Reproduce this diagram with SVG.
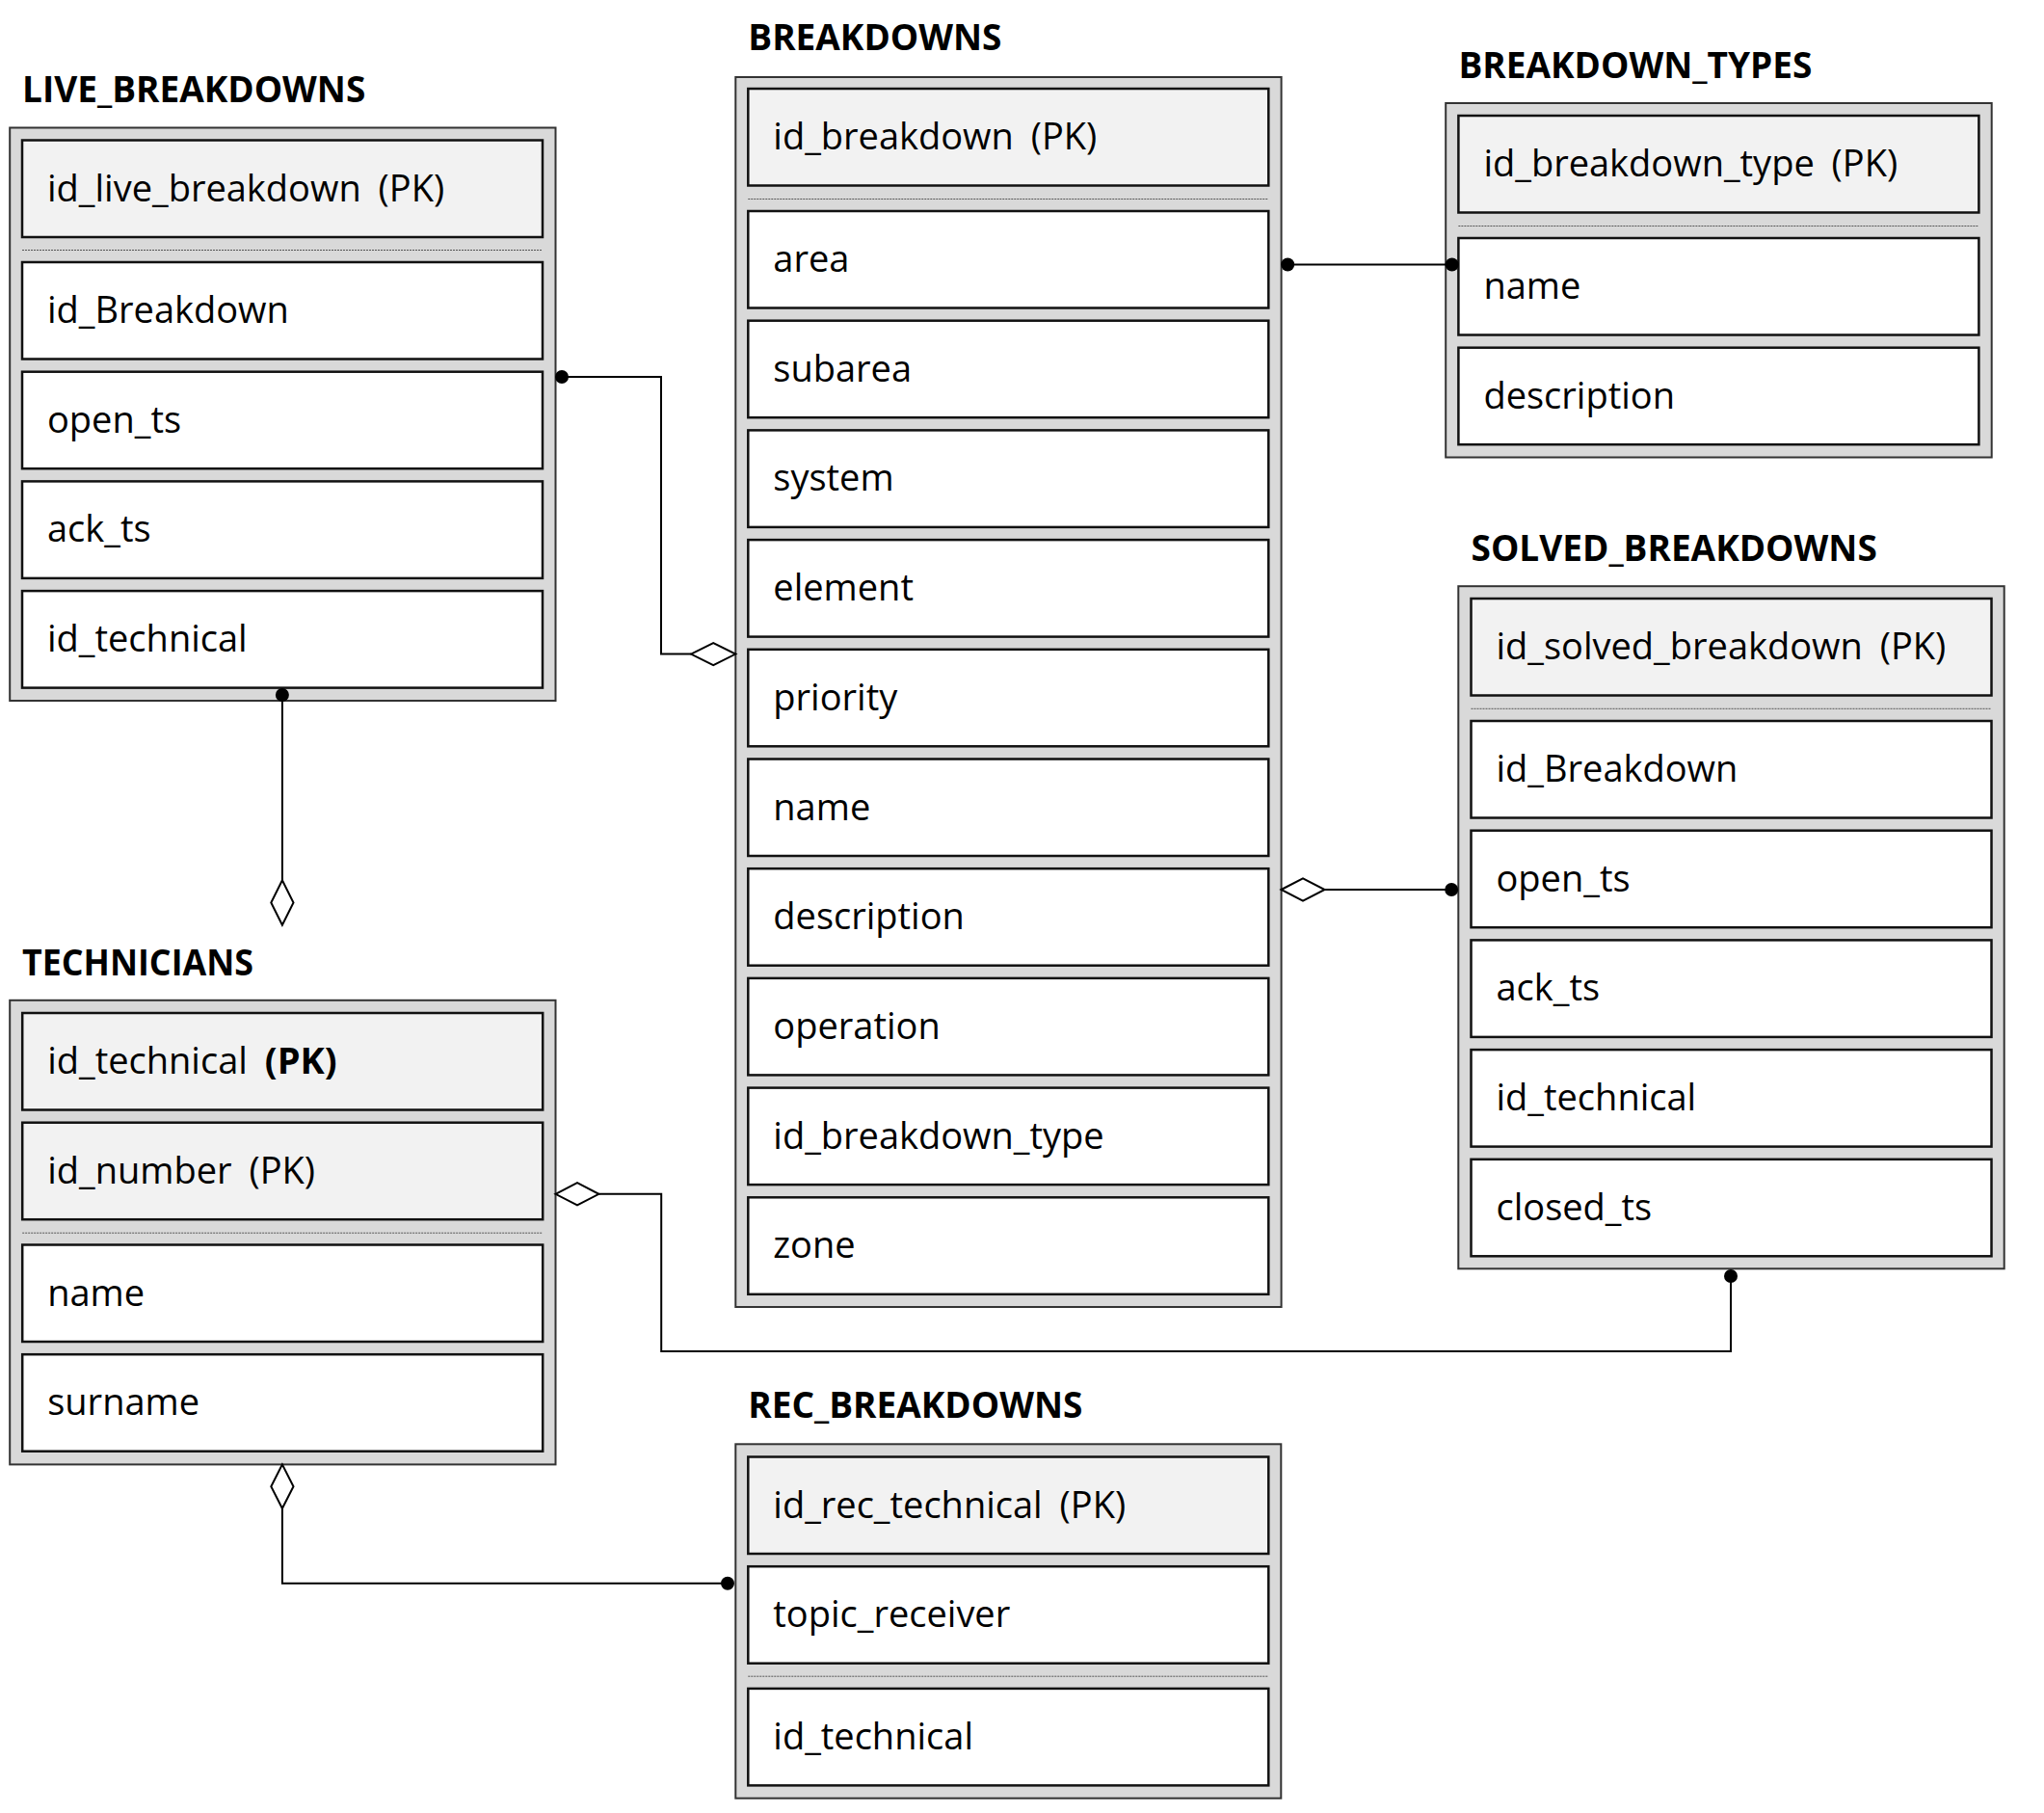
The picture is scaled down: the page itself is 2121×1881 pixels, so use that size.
<svg xmlns="http://www.w3.org/2000/svg" width="2121" height="1881" viewBox="0 0 2121 1881">
<style>
.bg{fill:#ffffff}
.outer{fill:#d9d9d9;stroke:#333333;stroke-width:2}
.pk{fill:#f2f2f2;stroke:#111111;stroke-width:2.5}
.row{fill:#ffffff;stroke:#111111;stroke-width:2.5}
.sep{stroke:#555555;stroke-width:1;stroke-dasharray:2 1}
.title{font-family:"Open Sans","Noto Sans","DejaVu Sans",sans-serif;font-weight:bold;font-size:37px;fill:#000}
.f{font-family:"Open Sans","Noto Sans","DejaVu Sans",sans-serif;font-size:38px;fill:#000;word-spacing:8px}
.conn{fill:none;stroke:#000;stroke-width:2}
.dot{fill:#000}
.dia{fill:#fff;stroke:#000;stroke-width:2}
</style>
<rect class="bg" x="0" y="0" width="2121" height="1881"/>

<g id="live_breakdowns">
  <text class="title" x="23" y="105.5">LIVE_BREAKDOWNS</text>
  <rect class="outer" x="10.2" y="132.5" width="566.3" height="594.5"/>
  <rect class="pk" x="23" y="145.5" width="540" height="100.5"/>
  <text class="f" x="49" y="208.5">id_live_breakdown (PK)</text>
  <line class="sep" x1="23" y1="259.5" x2="563" y2="259.5"/>
  <rect class="row" x="23" y="272" width="540" height="100.5"/>
  <text class="f" x="49" y="335">id_Breakdown</text>
  <rect class="row" x="23" y="385.7" width="540" height="100.5"/>
  <text class="f" x="49" y="448.7">open_ts</text>
  <rect class="row" x="23" y="499.4" width="540" height="100.5"/>
  <text class="f" x="49" y="562.4">ack_ts</text>
  <rect class="row" x="23" y="613.1" width="540" height="100.5"/>
  <text class="f" x="49" y="676.1">id_technical</text>
</g>

<g id="breakdowns">
  <text class="title" x="776.3" y="52">BREAKDOWNS</text>
  <rect class="outer" x="763.3" y="80" width="566.3" height="1276"/>
  <rect class="pk" x="776.3" y="92" width="540" height="100.5"/>
  <text class="f" x="802.3" y="155">id_breakdown (PK)</text>
  <line class="sep" x1="776.3" y1="206.5" x2="1316.3" y2="206.5"/>
  <rect class="row" x="776.3" y="219" width="540" height="100.5"/>
  <text class="f" x="802.3" y="282">area</text>
  <rect class="row" x="776.3" y="332.7" width="540" height="100.5"/>
  <text class="f" x="802.3" y="395.7">subarea</text>
  <rect class="row" x="776.3" y="446.4" width="540" height="100.5"/>
  <text class="f" x="802.3" y="509.4">system</text>
  <rect class="row" x="776.3" y="560.1" width="540" height="100.5"/>
  <text class="f" x="802.3" y="623.1">element</text>
  <rect class="row" x="776.3" y="673.8" width="540" height="100.5"/>
  <text class="f" x="802.3" y="736.8">priority</text>
  <rect class="row" x="776.3" y="787.5" width="540" height="100.5"/>
  <text class="f" x="802.3" y="850.5">name</text>
  <rect class="row" x="776.3" y="901.2" width="540" height="100.5"/>
  <text class="f" x="802.3" y="964.2">description</text>
  <rect class="row" x="776.3" y="1014.9" width="540" height="100.5"/>
  <text class="f" x="802.3" y="1077.9">operation</text>
  <rect class="row" x="776.3" y="1128.6" width="540" height="100.5"/>
  <text class="f" x="802.3" y="1191.6">id_breakdown_type</text>
  <rect class="row" x="776.3" y="1242.3" width="540" height="100.5"/>
  <text class="f" x="802.3" y="1305.3">zone</text>
</g>

<g id="breakdown_types">
  <text class="title" x="1513.5" y="80.5">BREAKDOWN_TYPES</text>
  <rect class="outer" x="1500.2" y="107" width="566.5" height="367.5"/>
  <rect class="pk" x="1513.4" y="120" width="540" height="100.5"/>
  <text class="f" x="1539.4" y="183">id_breakdown_type (PK)</text>
  <line class="sep" x1="1513.4" y1="234.5" x2="2053.4" y2="234.5"/>
  <rect class="row" x="1513.4" y="247" width="540" height="100.5"/>
  <text class="f" x="1539.4" y="310">name</text>
  <rect class="row" x="1513.4" y="360.7" width="540" height="100.5"/>
  <text class="f" x="1539.4" y="423.7">description</text>
</g>

<g id="solved_breakdowns">
  <text class="title" x="1526.5" y="581.5">SOLVED_BREAKDOWNS</text>
  <rect class="outer" x="1513.3" y="608.2" width="566.4" height="708.1"/>
  <rect class="pk" x="1526.5" y="621" width="540" height="100.5"/>
  <text class="f" x="1552.5" y="684">id_solved_breakdown (PK)</text>
  <line class="sep" x1="1526.5" y1="735.3" x2="2066.5" y2="735.3"/>
  <rect class="row" x="1526.5" y="748" width="540" height="100.5"/>
  <text class="f" x="1552.5" y="811">id_Breakdown</text>
  <rect class="row" x="1526.5" y="861.7" width="540" height="100.5"/>
  <text class="f" x="1552.5" y="924.7">open_ts</text>
  <rect class="row" x="1526.5" y="975.4" width="540" height="100.5"/>
  <text class="f" x="1552.5" y="1038.4">ack_ts</text>
  <rect class="row" x="1526.5" y="1089.1" width="540" height="100.5"/>
  <text class="f" x="1552.5" y="1152.1">id_technical</text>
  <rect class="row" x="1526.5" y="1202.8" width="540" height="100.5"/>
  <text class="f" x="1552.5" y="1265.8">closed_ts</text>
</g>

<g id="technicians">
  <text class="title" x="23" y="1011.5" textLength="240" lengthAdjust="spacingAndGlyphs">TECHNICIANS</text>
  <rect class="outer" x="10.2" y="1037.8" width="566.3" height="481.6"/>
  <rect class="pk" x="23.2" y="1051" width="540" height="100.5"/>
  <text class="f" x="49.2" y="1114">id_technical <tspan font-weight="bold">(PK)</tspan></text>
  <rect class="pk" x="23.2" y="1164.7" width="540" height="100.5"/>
  <text class="f" x="49.2" y="1227.7">id_number (PK)</text>
  <line class="sep" x1="23.2" y1="1279.2" x2="563.2" y2="1279.2"/>
  <rect class="row" x="23.2" y="1291.5" width="540" height="100.5"/>
  <text class="f" x="49.2" y="1354.5">name</text>
  <rect class="row" x="23.2" y="1405.2" width="540" height="100.5"/>
  <text class="f" x="49.2" y="1468.2">surname</text>
</g>

<g id="rec_breakdowns">
  <text class="title" x="776.3" y="1471.3">REC_BREAKDOWNS</text>
  <rect class="outer" x="763.3" y="1498.3" width="566" height="367.4"/>
  <rect class="pk" x="776.3" y="1511.5" width="540" height="100.5"/>
  <text class="f" x="802.3" y="1574.5">id_rec_technical (PK)</text>
  <rect class="row" x="776.3" y="1625.2" width="540" height="100.5"/>
  <text class="f" x="802.3" y="1688.2">topic_receiver</text>
  <line class="sep" x1="776.3" y1="1739.2" x2="1316.3" y2="1739.2"/>
  <rect class="row" x="776.3" y="1751.9" width="540" height="100.5"/>
  <text class="f" x="802.3" y="1814.9">id_technical</text>
</g>

<g id="connectors">
  <path class="conn" d="M583 391 H686 V678.6 H717"/>
  <circle class="dot" cx="583" cy="391" r="7"/>
  <polygon class="dia" points="717,678.6 740.2,667 763.3,678.6 740.2,690.2"/>

  <path class="conn" d="M292.9 721 V913.3"/>
  <circle class="dot" cx="292.9" cy="721" r="7"/>
  <polygon class="dia" points="292.9,913.3 304.5,936.5 292.9,959.7 281.3,936.5"/>

  <path class="conn" d="M1336.2 274.5 H1506.7"/>
  <circle class="dot" cx="1336.2" cy="274.5" r="7"/>
  <circle class="dot" cx="1506.7" cy="274.5" r="7"/>

  <path class="conn" d="M1374.6 923 H1506.2"/>
  <polygon class="dia" points="1329.5,923 1352,911.4 1374.6,923 1352,934.6"/>
  <circle class="dot" cx="1506.2" cy="923" r="7"/>

  <path class="conn" d="M621.4 1238.8 H686.2 V1402 H1796 V1324"/>
  <polygon class="dia" points="576.5,1238.8 599,1227.2 621.4,1238.8 599,1250.4"/>
  <circle class="dot" cx="1796" cy="1324" r="7"/>

  <path class="conn" d="M292.9 1565 V1642.7 H755"/>
  <polygon class="dia" points="292.9,1519.4 304.5,1542.2 292.9,1565 281.3,1542.2"/>
  <circle class="dot" cx="755" cy="1642.7" r="7"/>
</g>
</svg>
